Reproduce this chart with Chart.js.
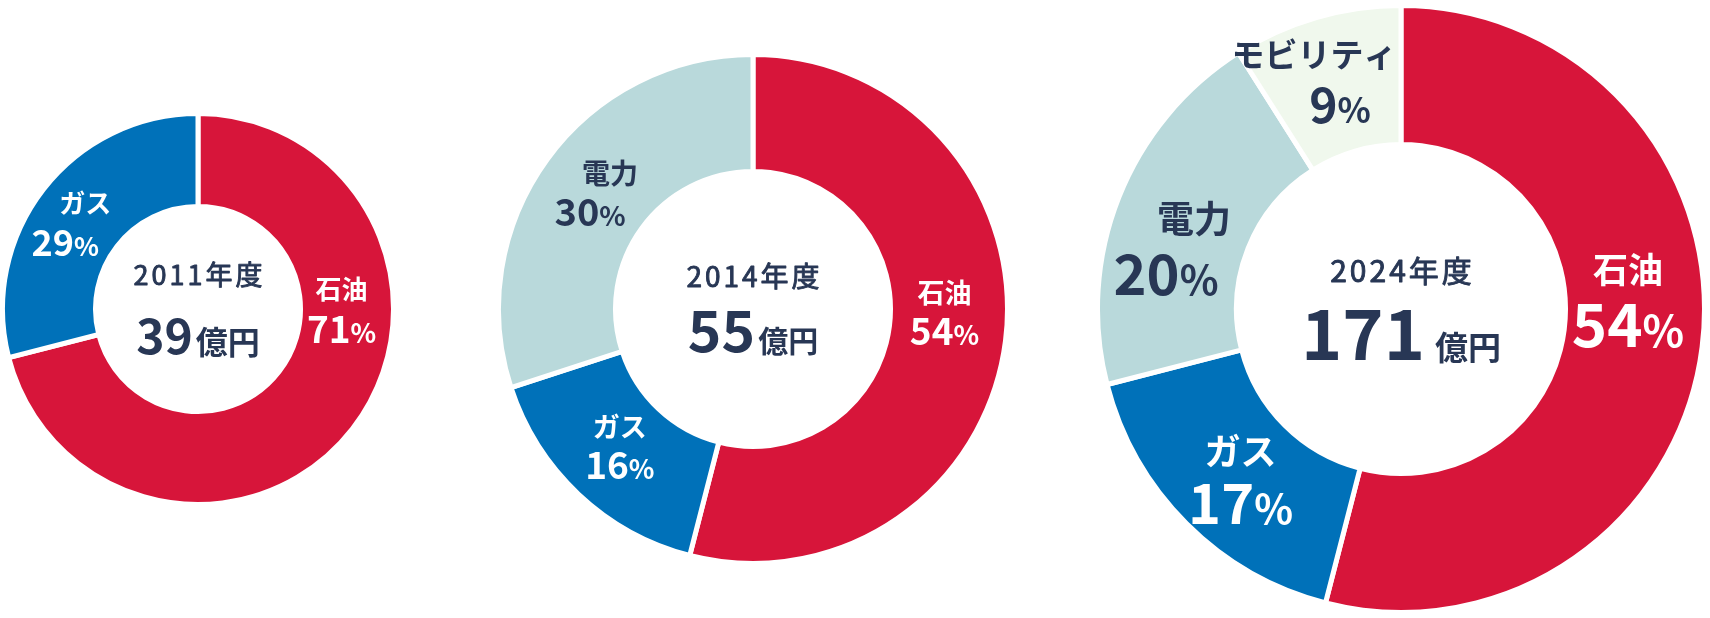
<!DOCTYPE html>
<html>
<head>
<meta charset="utf-8">
<script src="https://cdn.jsdelivr.net/npm/chart.js@4"></script>
<style>
  body { margin: 0; background: #fff; }
  #wrap { position: relative; width: 1710px; height: 618px; overflow: hidden; }
  #wrap canvas { position: absolute; }
</style>
</head>
<body>
<div id="wrap">
  <canvas id="pie2011"></canvas>
  <canvas id="pie2014"></canvas>
  <canvas id="pie2024"></canvas>
</div>
<script>
const years = ['2011年度', '2014年度', '2024年度'];
const totals = [39, 55, 171];
const unit = '億円';

const labels2011 = ['石油', 'ガス'];
const shares2011 = [71, 29];
const labels2014 = ['石油', 'ガス', '電力'];
const shares2014 = [54, 16, 30];
const labels2024 = ['石油', 'ガス', '電力', 'モビリティ'];
const shares2024 = [54, 17, 20, 9];

const segmentColors = {'石油': '#d7153a', 'ガス': '#0071b9', '電力': '#b9d9db', 'モビリティ': '#f0f8ed'};
const labelColors = {'石油': '#ffffff', 'ガス': '#ffffff', '電力': '#283755', 'モビリティ': '#283755'};
const darkText = '#283755';
const FONT = '"Noto Sans CJK JP", "Noto Sans", sans-serif';
const BORDER = 5;

// per pie: centre, ring radii, centre text sizes, and where each label sits
// (angle in degrees clockwise from 12 o'clock, distance as fraction of the outer radius)
const layouts = [
  {cx: 198, cy: 308.5, r: 193, rIn: 105,
   yearSize: 27, yearY: -24.5, totalSize: 48, unitSize: 32, totalY: 44.5, unitGap: 3,
   labels: [
     {angle: 90.2, dist: 0.744, name: 26, pct: 37, gap: 40, shift: 0},
     {angle: 305, dist: 0.777, name: 26, pct: 36, gap: 39, shift: 10}
   ]},
  {cx: 753, cy: 309, r: 252, rIn: 140,
   yearSize: 28, yearY: -22, totalSize: 57, unitSize: 30, totalY: 43, unitGap: 3,
   labels: [
     {angle: 90.9, dist: 0.76, name: 27, pct: 37, gap: 39, shift: 0},
     {angle: 224.2, dist: 0.758, name: 27, pct: 37, gap: 38, shift: 0},
     {angle: 307.3, dist: 0.763, name: 28, pct: 38, gap: 39, shift: 10}
   ]},
  {cx: 1401, cy: 308.5, r: 301, rIn: 167,
   yearSize: 30, yearY: -27.5, totalSize: 70, unitSize: 33, totalY: 50.5, unitGap: 10,
   labels: [
     {angle: 87.1, dist: 0.755, name: 35, pct: 60, gap: 55.5, shift: 0},
     {angle: 223.6, dist: 0.773, name: 36, pct: 56, gap: 52, shift: 0},
     {angle: 285.8, dist: 0.763, name: 37, pct: 56, gap: 56, shift: 14},
     {angle: 342.1, dist: 0.80, name: 33, pct: 48, gap: 51, shift: -13}
   ]}
];

function drawPct(ctx, value, x, yMid, size, color) {
  const num = String(value);
  const small = size * 0.72;
  ctx.font = `bold ${size}px ${FONT}`;
  const wNum = ctx.measureText(num).width;
  ctx.font = `bold ${small}px ${FONT}`;
  const wPct = ctx.measureText('%').width;
  const left = x - (wNum + wPct) / 2;
  const base = yMid + size * 0.367;
  ctx.fillStyle = color;
  ctx.textAlign = 'left';
  ctx.font = `bold ${size}px ${FONT}`;
  ctx.fillText(num, left, base);
  ctx.font = `bold ${small}px ${FONT}`;
  ctx.fillText('%', left + wNum, base);
}

function textPlugin(layout, labels, shares, year, total) {
  return {
    id: 'pieText',
    afterDraw(chart) {
      const ctx = chart.ctx;
      const arc = chart.getDatasetMeta(0).data[0];
      const x = arc.x, y = arc.y;
      const R = arc.outerRadius - BORDER / 2;
      ctx.save();
      ctx.textBaseline = 'alphabetic';

      // year, regular weight thickened a little to look medium
      ctx.fillStyle = darkText;
      ctx.strokeStyle = darkText;
      ctx.lineWidth = 0.9;
      ctx.lineJoin = 'round';
      ctx.textAlign = 'center';
      ctx.font = `${layout.yearSize}px ${FONT}`;
      ctx.letterSpacing = '3px';
      ctx.fillText(year, x + 1.5, y + layout.yearY);
      ctx.strokeText(year, x + 1.5, y + layout.yearY);
      ctx.letterSpacing = '0px';

      // total amount
      const num = String(total);
      ctx.font = `bold ${layout.totalSize}px ${FONT}`;
      const wNum = ctx.measureText(num).width;
      ctx.font = `bold ${layout.unitSize}px ${FONT}`;
      const wUnit = ctx.measureText(unit).width;
      const left = x - (wNum + layout.unitGap + wUnit) / 2;
      ctx.textAlign = 'left';
      ctx.font = `bold ${layout.totalSize}px ${FONT}`;
      ctx.fillText(num, left, y + layout.totalY);
      ctx.font = `bold ${layout.unitSize}px ${FONT}`;
      ctx.fillText(unit, left + wNum + layout.unitGap, y + layout.totalY);

      // segment labels
      labels.forEach((label, i) => {
        const lay = layout.labels[i];
        const a = lay.angle * Math.PI / 180;
        const bx = x + R * lay.dist * Math.sin(a);
        const by = y - R * lay.dist * Math.cos(a);
        const color = labelColors[label];
        ctx.fillStyle = color;
        ctx.textAlign = 'center';
        ctx.font = `bold ${lay.name}px ${FONT}`;
        ctx.fillText(label, bx + lay.shift, by - lay.gap / 2 + lay.name * 0.38);
        drawPct(ctx, shares[i], bx - lay.shift, by + lay.gap / 2, lay.pct, color);
      });
      ctx.restore();
    }
  };
}

function makePie(id, labels, shares, layout, year, total) {
  const size = 2 * layout.r + 2 * BORDER;
  const canvas = document.getElementById(id);
  canvas.width = size;
  canvas.height = size;
  canvas.style.width = size + 'px';
  canvas.style.height = size + 'px';
  canvas.style.left = (layout.cx - size / 2) + 'px';
  canvas.style.top = (layout.cy - size / 2) + 'px';
  return new Chart(canvas, {
    type: 'doughnut',
    data: {
      labels: labels,
      datasets: [{
        data: shares,
        backgroundColor: labels.map(l => segmentColors[l]),
        borderColor: '#ffffff',
        borderWidth: BORDER
      }]
    },
    options: {
      responsive: false,
      animation: false,
      cutout: layout.rIn - BORDER / 2,
      layout: {padding: 0},
      plugins: {
        legend: {display: false},
        tooltip: {enabled: false}
      }
    },
    plugins: [textPlugin(layout, labels, shares, year, total)]
  });
}

makePie('pie2011', labels2011, shares2011, layouts[0], years[0], totals[0]);
makePie('pie2014', labels2014, shares2014, layouts[1], years[1], totals[1]);
makePie('pie2024', labels2024, shares2024, layouts[2], years[2], totals[2]);
</script>
</body>
</html>
